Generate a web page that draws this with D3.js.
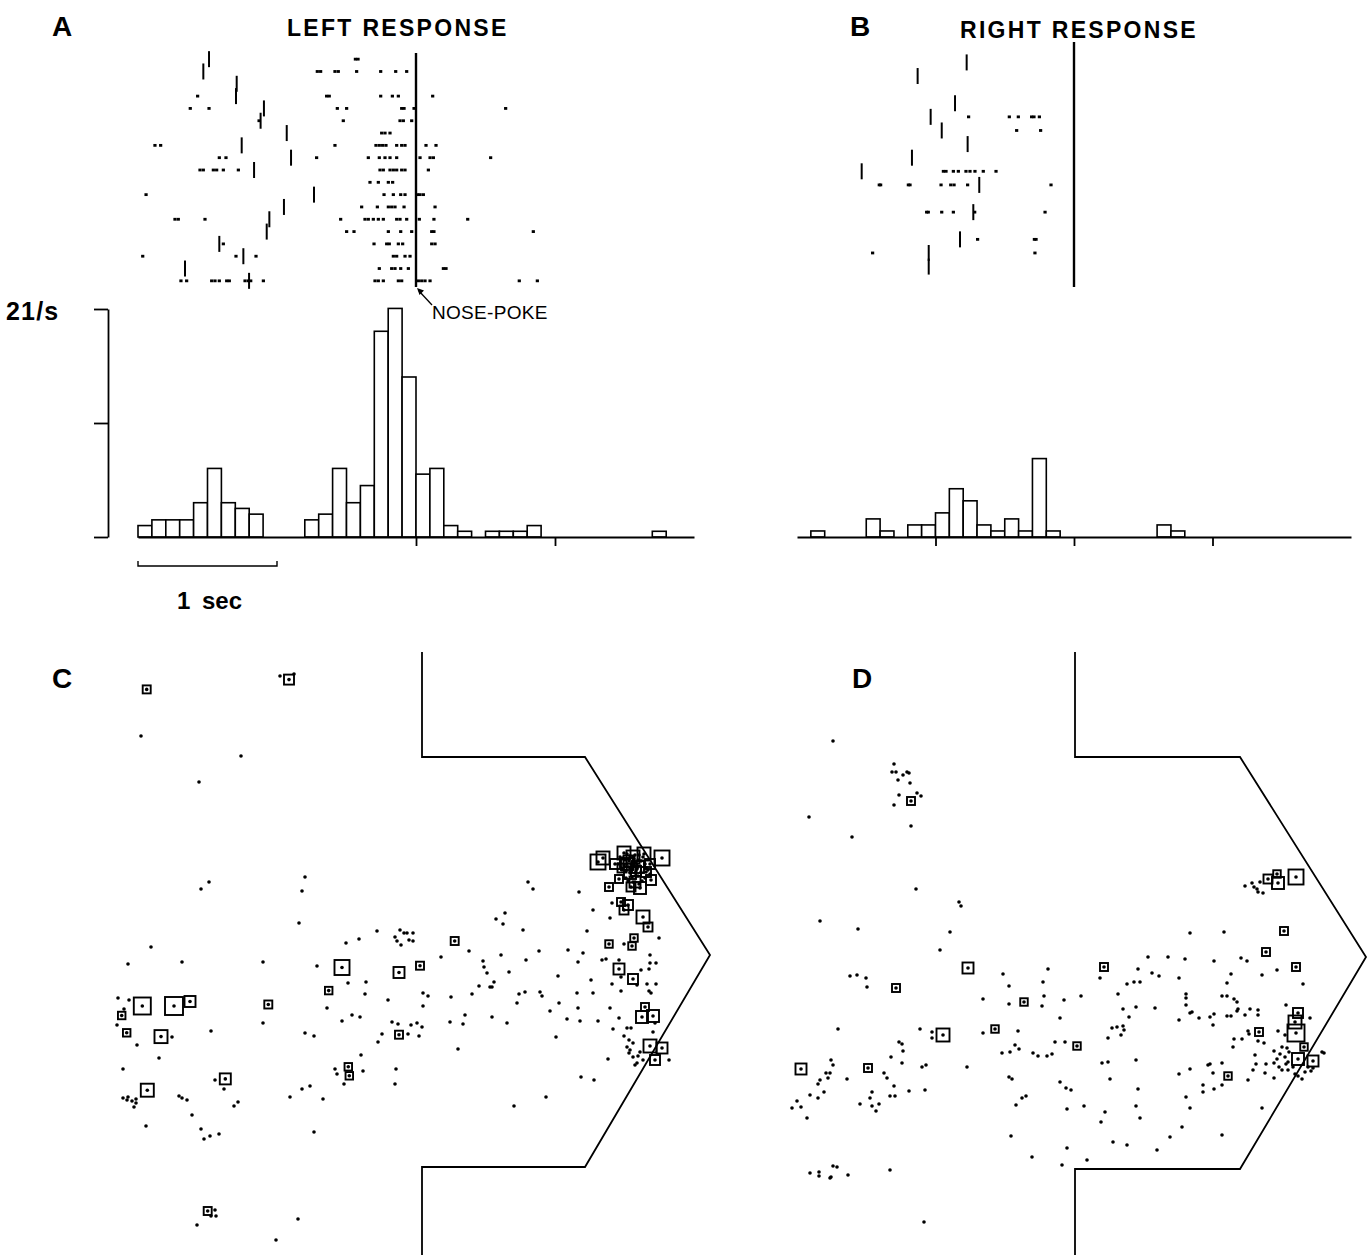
<!DOCTYPE html>
<html>
<head>
<meta charset="utf-8">
<script src="https://cdn.jsdelivr.net/npm/d3@7"></script>
<style>
  html, body { margin: 0; padding: 0; background: #fff; }
  svg { display: block; }
  text { font-family: "Liberation Sans", Arial, Helvetica, sans-serif; fill: #000; }
</style>
</head>
<body>
<svg id="fig" width="1372" height="1259"></svg>
<script>
// ---------- Peri-event histograms (spike counts per 100 ms bin, -2 s .. +2 s) ----------
const binStart = -2;
const binWidth = 0.1;
const rateMax = 21;            // spikes/s at top of rate axis
const leftTrials = 19;
const rightTrials = 18;
const leftCounts = [2,3,3,3,6,12,6,5,4,0, 0,0,3,4,12,6,9,36,40,28, 11,12,2,1,0,1,1,1,2,0, 0,0,0,0,0,0,0,1,0,0];
const rightCounts = [0,1,0,0,0,3,1,0,2,2, 4,8,6,2,1,3,1,13,1,0, 0,0,0,0,0,0,2,1,0,0, 0,0,0,0,0,0,0,0,0,0];
const leftAxisTicks = [0, 1];
const rightAxisTicks = [-1, 0, 1];

// ---------- Rasters: cue time and spike times (s, relative to nose-poke) per trial ----------
const leftCue = [-1.489,-1.530,-1.290,-1.295,-1.094,-1.118,-0.930,-1.254,-0.899,-1.165,null,-0.734,-0.950,-1.055,-1.074,-1.415,-1.242,-1.662,-1.201];
const leftSpikes = [
  [-0.436,-0.417],
  [-0.710,-0.686,-0.583,-0.559,-0.427,-0.254,-0.146,-0.067],
  [],
  [-1.571,-0.643,-0.624,-0.254,-0.170,-0.127,0.120],
  [-1.624,-1.489,-0.566,-0.499,-0.103,-0.086,-0.014,0.645],
  [-1.129,-0.523,-0.115,-0.091,-0.031],
  [-0.247,-0.223,-0.187],
  [-1.878,-1.837,-0.583,-0.288,-0.264,-0.240,-0.216,-0.139,-0.103,-0.079,0.072,0.144],
  [-1.415,-1.367,-0.715,-0.343,-0.264,-0.223,-0.187,-0.139,0.029,0.101,0.125,0.537],
  [-1.554,-1.530,-1.458,-1.434,-1.386,-1.278,-0.259,-0.235,-0.187,-0.163,-0.139,-0.103,-0.079,0.089],
  [-0.331,-0.271,-0.199,-0.168],
  [-1.942,-0.230,-0.163,-0.110,-0.079,0.010,0.029,0.053],
  [-0.391,-0.278,-0.199,-0.175,-0.151,-0.086,0.137],
  [-1.734,-1.710,-1.518,-0.542,-0.367,-0.343,-0.307,-0.271,-0.235,-0.139,-0.115,-0.067,0.024,0.129,0.372],
  [-0.499,-0.446,-0.199,-0.110,-0.031,0.113,0.129,0.844],
  [-1.386,-0.302,-0.211,-0.192,-0.127,-0.096,0.113,0.137],
  [-1.966,-1.295,-1.151,-0.163,-0.139,-0.079,-0.043],
  [-0.264,-0.175,-0.151,-0.110,-0.055,0.197,0.216],
  [-1.691,-1.650,-1.470,-1.446,-1.415,-1.362,-1.343,-1.230,-1.206,-1.189,-1.098,-0.295,-0.271,-0.235,-0.127,-0.103,0.017,0.041,0.065,0.101,0.743,0.873]
];
const rightCue = [null,-0.775,-1.129,null,-0.859,-1.035,-0.955,-0.768,-1.170,-1.533,-0.684,null,-0.727,null,-0.823,-1.049,-1.049,null];
const rightSpikes = [
  [],[],[],[],[],
  [-0.761,-0.467,-0.402,-0.306,-0.289,-0.250],
  [-0.414,-0.241],
  [],[],
  [-0.943,-0.924,-0.871,-0.835,-0.780,-0.751,-0.715,-0.655,-0.563],
  [-1.406,-1.396,-1.196,-1.184,-0.960,-0.890,-0.866,-0.768,-0.166],
  [],
  [-1.064,-1.052,-0.955,-0.871,-0.717,-0.209],
  [],
  [-0.696,-0.286,-0.274],
  [-1.454,-0.282],
  [],[]
];

// ---------- Place fields: tracker positions (x, y) and boxes (x, y, rate level) ----------
const mazeC = [[312,0],[312,105],[475,105],[600,303],[475,515],[312,515],[312,603]];
const mazeD = [[307,0],[307,105],[472,105],[598,305],[472,517],[307,517],[307,603]];

const dotsC = [
  [31,84],[131,104],[89,130],[99,230],[91,237],[195,225],[192,239],[189,271],[41,295],[18,312],[72,310],[153,310],[207,314],
  [267,279],[236,291],[249,287],[290,278],[294,281],[297,281],[303,281],[285,285],[287,289],[291,293],[299,288],[303,289],
  [238,331],[256,330],[255,342],[278,348],[313,341],[318,344],[313,354],[217,356],[242,363],[250,365],[232,369],
  [282,370],[288,372],[301,373],[307,371],[312,375],[272,382],[298,382],[309,384],[268,390],[195,381],[204,384],[153,371],
  [101,379],[62,385],[27,393],[8,346],[19,348],[14,357],[7,373],[49,406],[13,417],[251,403],[225,417],[227,422],[253,419],
  [286,417],[285,432],[234,432],[200,434],[192,437],[180,445],[213,447],[105,428],[114,437],[69,444],[72,446],[77,448],
  [128,450],[124,454],[82,463],[91,477],[94,487],[100,484],[109,482],[204,480],[36,474],
  [13,446],[18,445],[22,449],[26,447],[24,455],[26,451],[17,448],[105,558],[106,564],[101,564],[87,573],[188,567],[166,588],
  [170,24],[184,22],
  [418,230],[423,237],[469,240],[483,258],[395,261],[386,267],[393,272],[413,278],[477,279],[500,266],[502,251],
  [331,305],[359,299],[391,303],[373,309],[374,315],[377,321],[416,308],[429,299],[458,298],[473,301],[468,310],[492,308],[496,307],
  [399,320],[448,324],[481,328],[509,308],[514,292],[549,286],[540,303],[546,311],[540,311],[531,318],[539,317],
  [511,325],[502,332],[511,339],[527,333],[537,332],[546,332],[539,339],[541,341],
  [341,345],[362,342],[380,335],[382,335],[384,330],[369,334],[409,342],[415,340],[430,340],[432,344],[407,351],[449,351],
  [467,341],[483,341],[468,356],[440,359],[355,363],[353,372],[340,370],[382,365],[397,371],[457,367],[470,369],[488,369],
  [500,356],[509,366],[503,377],[517,376],[521,376],
  [514,384],[519,388],[523,391],[520,398],[517,395],[519,401],[523,405],[528,404],[525,413],[527,411],[530,400],[533,408],
  [543,380],[545,371],[446,385],[498,407],[348,397],[559,408],[471,425],[484,428],[436,445],[404,454],
  [510,205],[515,208],[518,215],[522,210],[525,203],[528,208],[530,214],[520,220],[526,224],[531,220],[535,212],[512,218],
  [516,226],[523,230],[529,232],[535,226],[538,218],[508,212],[520,204],[527,217],[533,205],[540,222],
  [517,202],[519,207],[521,212],[523,217],[525,221],[527,212],[529,203],[524,207],[522,225],[518,229],[526,211],[531,209],
  [514,213],[516,219],[528,224],[532,229],[536,216],[524,214],[520,216],[513,206]
];
const boxesC = [
  [36.7,37.4,1.1],[179,27.6,1.5],[232,315.5,2.5],[289,320.5,1.7],[310,313.7,1.1],[218.7,338.6,1],[32.3,354,2.9],[64,354,3.1],
  [80,349.5,1.7],[158.3,352.5,1.1],[11.7,363.5,1],[16.7,380.8,1],[51,384.6,2.1],[289,382.7,1.1],[238.3,414.8,1],[239.3,423.8,1],
  [115.3,426.9,1.7],[37.3,438.2,2.1],[97.7,559,1.1],[344.7,289,1.1],
  [488,210,2.5],[493,206,2.1],[505,212,1.5],[514,201,2.1],[517,212,1.9],[523,205,2.1],[528,215,1.9],[534,202,2.1],[540,212,1.5],
  [552,206,2.5],[520,221,1.9],[525,230,1.7],[530,236,1.9],[541,228,1.5],[509,227,1.1],[499,235,1.1],[521,235,1.3],[511,250,1.1],
  [518,253,1.5],[514,258,1.3],[533,265,2.1],[538,275,1.3],[524,286,1],[522,294,1],[499,292,1],[509,317,1.7],[523,327,1.5],
  [535,355,1.1],[532,365,1.9],[543,364,1.9],[540,394,2.1],[552,396,1.7],[545,408,1.5],
  [519,209,1.7],[526,219,1.5],[512,216,1.3],[536,220,1.5]
];

const dotsD = [
  [65,89],[126,112],[124,120],[128,120],[139,120],[141,121],[135,123],[130,128],[142,131],[131,143],[149,141],[153,144],[126,153],
  [143,174],[41,165],[84,185],[148,237],[191,250],[193,254],[52,269],[90,277],[182,280],[172,298],[82,324],[89,323],[98,326],[99,335],
  [235,322],[241,334],[280,317],[275,330],[276,344],[274,354],[296,348],[215,347],[241,352],[292,366],[215,381],[250,379],
  [287,390],[297,390],[234,401],[242,400],[247,393],[251,397],[265,401],[270,404],[279,404],[284,402],
  [70,377],[152,377],[164,380],[164,386],[131,390],[134,392],[135,399],[123,405],[134,411],[154,415],[158,413],[199,415],
  [63,408],[65,413],[58,421],[62,421],[60,426],[52,428],[50,432],[79,427],[116,421],[119,426],[126,434],[42,443],[56,440],[50,446],
  [29,449],[24,456],[33,455],[39,466],[104,440],[102,446],[92,452],[104,454],[111,452],[108,459],[122,444],[127,444],[141,439],[157,438],
  [241,425],[244,427],[292,430],[298,436],[303,438],[254,446],[258,444],[248,453],[299,457],[243,484],[264,505],[299,496],[294,513],
  [42,521],[51,520],[51,524],[62,526],[63,525],[65,514],[69,515],[80,523],[122,518],[156,570],
  [477,234],[484,231],[489,237],[490,240],[492,230],[495,241],[486,235],[422,281],[456,280],[380,305],[400,305],[417,307],[446,309],
  [473,306],[479,309],[509,318],[370,317],[332,326],[384,321],[391,324],[411,326],[463,322],[494,323],[359,332],[366,330],[372,330],
  [459,331],[535,332],[313,344],[350,342],[418,342],[418,346],[454,344],[459,344],[466,347],[469,350],[355,357],[368,355],[387,356],
  [418,353],[518,353],[361,365],[422,361],[424,360],[431,366],[411,368],[442,365],[446,362],[459,364],[463,364],[469,359],[470,357],
  [477,363],[482,357],[490,358],[490,363],[542,366],[445,373],[344,376],[349,375],[355,374],[356,378],[353,383],[340,386],
  [480,379],[481,382],[510,379],[517,383],[466,387],[474,387],[490,389],[496,391],[465,395],
  [506,399],[514,395],[519,396],[521,400],[512,402],[509,407],[517,405],[520,410],[506,411],[511,415],[518,412],[514,418],[520,418],
  [525,415],[527,422],[540,415],[543,419],[537,420],[545,416],[554,400],[556,401],
  [487,403],[488,412],[498,412],[485,418],[497,421],[506,426],[534,427],[530,424],[480,428],[334,411],[340,410],[368,408],[342,427],
  [370,437],[422,417],[411,422],[440,413],[442,412],[454,411],[445,421],[435,433],[435,440],[446,437],[454,433],[418,445],[368,454],
  [316,454],[422,456],[494,456],[337,460],[333,470],[372,466],[414,475],[402,485],[454,483],[345,490],[359,493],[389,498],[319,508]
];
const boxesD = [
  [143,149,1.1],[200,316,1.7],[128,336,1.1],[256,350,1],[227,377,1],[175,383,2.1],[33,417,1.7],[100,416,1.1],
  [500,227,1.3],[509,222,1],[510,231,1.9],[528,225,2.5],[516,279,1.1],[498,300,1.1],[528,315,1.1],[336,315,1.1],[491,380,1.1],
  [530,361,1.5],[527,370,2.1],[528,381,2.9],[536,395,1],[530,407,1.9],[545,409,1.7],[460,424,1],[309,394,1]
];

// ---------- Drawing ----------
const svg = d3.select("#fig");
svg.append("rect").attr("width", 1372).attr("height", 1259).attr("fill", "#fff");

const yRate = d3.scaleLinear().domain([0, rateMax]).range([537, 309]);
const xLeft = d3.scaleLinear().domain([-2, 2]).range([138, 694]);
const xRight = d3.scaleLinear().domain([-2, 2]).range([797, 1351]);

function drawHistogram(counts, trials, x, ticks) {
  const g = svg.append("g");
  const bars = counts.map((c, i) => ({
    t0: binStart + i * binWidth,
    rate: c / (trials * binWidth)
  })).filter(d => d.rate > 0);
  g.selectAll("rect").data(bars).join("rect")
    .attr("x", d => x(d.t0))
    .attr("width", d => x(d.t0 + binWidth) - x(d.t0))
    .attr("y", d => yRate(d.rate))
    .attr("height", d => yRate(0) - yRate(d.rate))
    .attr("fill", "#fff").attr("stroke", "#000").attr("stroke-width", 1.6);
  const ax = g.append("g").attr("transform", `translate(0,${yRate(0)})`)
    .call(d3.axisBottom(x).tickValues(ticks).tickSize(9).tickSizeOuter(0).tickFormat(""));
  ax.select(".domain").attr("stroke-width", 1.8);
  ax.selectAll(".tick line").attr("stroke-width", 1.8);
}

function drawRaster(cues, spikes, x, top, bottom) {
  const g = svg.append("g");
  const row = d3.scaleBand().domain(d3.range(spikes.length)).range([top, bottom]);
  const mid = i => row(i) + row.bandwidth() / 2;
  const pts = [];
  spikes.forEach((s, i) => s.forEach(t => pts.push({t, i})));
  g.selectAll("rect.spk").data(pts).join("rect").attr("class", "spk")
    .attr("x", d => x(d.t) - 1.6).attr("y", d => mid(d.i) - 1.4)
    .attr("width", 3.2).attr("height", 2.8).attr("fill", "#000");
  const cueData = cues.map((t, i) => ({t, i})).filter(d => d.t !== null);
  g.selectAll("line.cue").data(cueData).join("line").attr("class", "cue")
    .attr("x1", d => x(d.t)).attr("x2", d => x(d.t))
    .attr("y1", d => mid(d.i) - 8).attr("y2", d => mid(d.i) + 8)
    .attr("stroke", "#000").attr("stroke-width", 2);
  g.append("line")
    .attr("x1", x(0)).attr("x2", x(0)).attr("y1", top).attr("y2", bottom)
    .attr("stroke", "#000").attr("stroke-width", 2.4);
}

// Panel A
drawRaster(leftCue, leftSpikes, xLeft, 53, 287);
drawHistogram(leftCounts, leftTrials, xLeft, leftAxisTicks);

// Rate axis
const yAx = svg.append("g").attr("transform", "translate(108,0)")
  .call(d3.axisLeft(yRate).tickValues([0, rateMax / 2, rateMax]).tickSize(14).tickSizeOuter(0).tickFormat(""));
yAx.select(".domain").attr("stroke-width", 1.8);
yAx.selectAll(".tick line").attr("stroke-width", 1.8);
svg.append("text").attr("x", 6).attr("y", yRate(rateMax) + 11)
  .attr("font-size", 25).attr("font-weight", "bold").attr("letter-spacing", 1.2)
  .text(`${rateMax}/s`);

// 1-second scale bar
const sb = svg.append("g");
sb.append("path")
  .attr("d", `M${xLeft(-2)},561V566H${xLeft(-1)}V561`)
  .attr("fill", "none").attr("stroke", "#000").attr("stroke-width", 1.4);
sb.append("text").attr("x", (xLeft(-2) + xLeft(-1)) / 2 + 2).attr("y", 609)
  .attr("text-anchor", "middle").attr("font-size", 24).attr("font-weight", "bold")
  .attr("word-spacing", 5).text("1 sec");

// Nose-poke pointer
const np = svg.append("g");
np.append("line").attr("x1", xLeft(0) + 3).attr("y1", 291).attr("x2", 432).attr("y2", 305)
  .attr("stroke", "#000").attr("stroke-width", 1.3);
np.append("path").attr("d", `M${xLeft(0) + 1},288 l7,2.5 l-4.5,4.5 z`).attr("fill", "#000");
np.append("text").attr("x", 432).attr("y", 319).attr("font-size", 19).attr("letter-spacing", 0.3).text("NOSE-POKE");

// Panel B
drawRaster(rightCue, rightSpikes, xRight, 42, 287);
drawHistogram(rightCounts, rightTrials, xRight, rightAxisTicks);

// Titles
function label(txt, x, y, size, spacing) {
  svg.append("text").attr("x", x).attr("y", y).attr("font-size", size)
    .attr("font-weight", "bold").attr("letter-spacing", spacing).text(txt);
}
label("A", 52, 36, 28, 0);
label("LEFT RESPONSE", 287, 36, 23, 2.3);
label("B", 850, 36, 28, 0);
label("RIGHT RESPONSE", 960, 38, 23, 2.3);
label("C", 52, 688, 28, 0);
label("D", 852, 688, 28, 0);

// Place-field panels
const boxSide = d3.scaleLinear().domain([1, 3]).range([7.5, 17.5]);
function drawPlace(ox, oy, outline, dots, boxes) {
  const xs = d3.scaleLinear().domain([0, 600]).range([ox, ox + 600]);
  const ys = d3.scaleLinear().domain([0, 600]).range([oy, oy + 600]);
  const g = svg.append("g");
  g.append("path").datum(outline)
    .attr("d", d3.line().x(d => xs(d[0])).y(d => ys(d[1])))
    .attr("fill", "none").attr("stroke", "#000").attr("stroke-width", 1.8);
  g.selectAll("rect.box").data(boxes).join("rect").attr("class", "box")
    .attr("x", d => xs(d[0]) - boxSide(d[2]) / 2)
    .attr("y", d => ys(d[1]) - boxSide(d[2]) / 2)
    .attr("width", d => boxSide(d[2])).attr("height", d => boxSide(d[2]))
    .attr("fill", "none").attr("stroke", "#000").attr("stroke-width", 1.9);
  g.selectAll("circle.box-c").data(boxes).join("circle").attr("class", "box-c")
    .attr("cx", d => xs(d[0])).attr("cy", d => ys(d[1])).attr("r", 1.8).attr("fill", "#000");
  g.selectAll("circle.dot").data(dots).join("circle").attr("class", "dot")
    .attr("cx", d => xs(d[0])).attr("cy", d => ys(d[1])).attr("r", 1.8).attr("fill", "#000");
}
drawPlace(110, 652, mazeC, dotsC, boxesC);
drawPlace(768, 652, mazeD, dotsD, boxesD);
</script>
</body>
</html>
